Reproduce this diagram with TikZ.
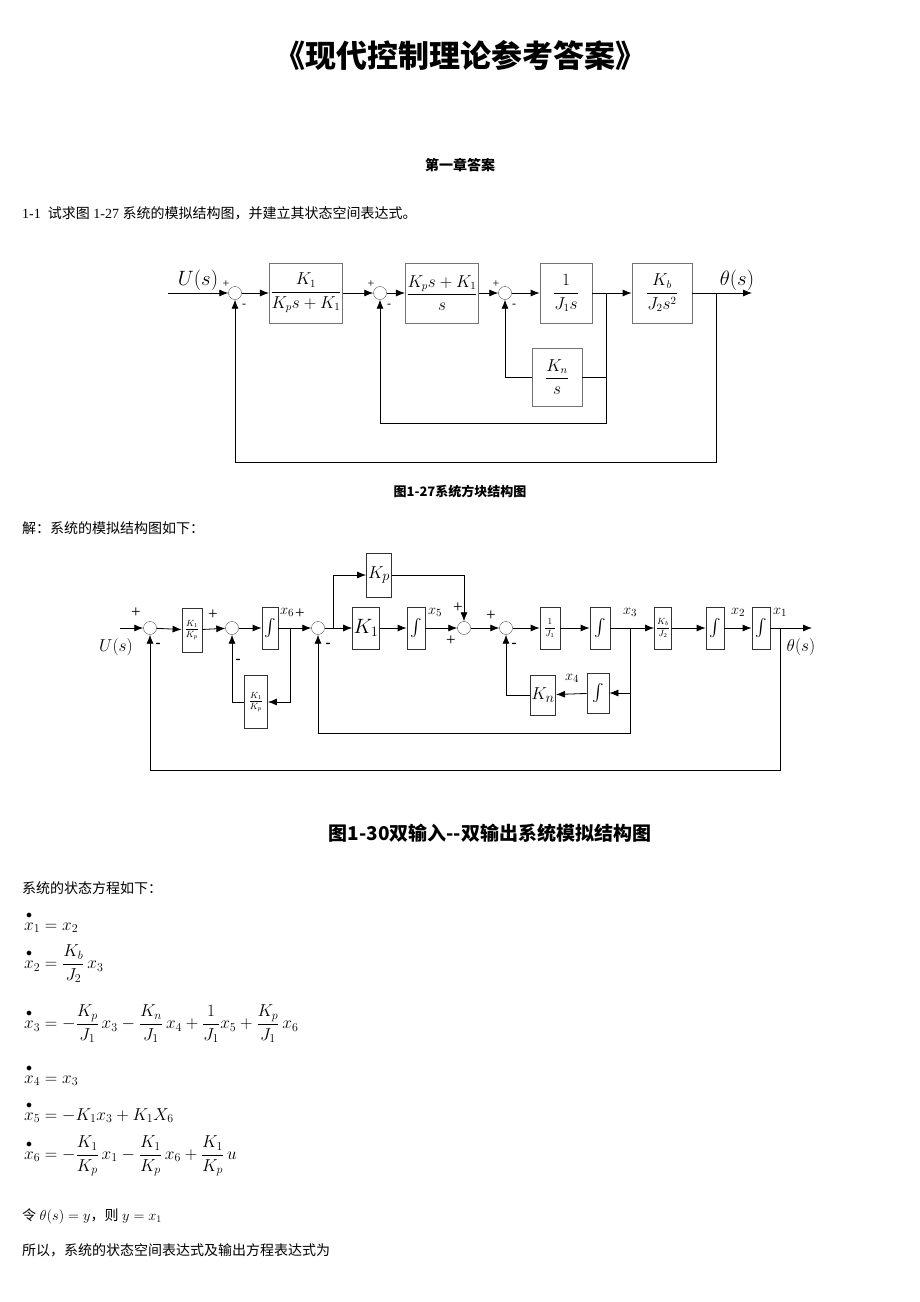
\documentclass[tikz,border=0pt]{standalone}
\usepackage{amsmath}
\usepackage{fontspec}
\setmainfont{Liberation Serif}
\newfontfamily\cjk{Noto Sans CJK SC}
\usetikzlibrary{arrows.meta,positioning,calc}
\tikzset{
 blk/.style={rectangle, draw=black!55, thick, inner sep=1pt, align=center},
 blkb/.style={rectangle, draw=black!80, thick, inner sep=1pt, align=center},
 sumc/.style={circle, draw=black!70, inner sep=0pt, minimum size=13pt},
 sig/.style={-{Latex[length=9pt,width=7pt]}, thick},
 ln/.style={thick},
 txt/.style={anchor=west, inner sep=0pt, font=\fontsize{14}{17}\selectfont},
}
\newcommand{\xd}[1]{\overset{\raisebox{1pt}{$\scriptstyle\bullet$}}{x}_{#1}}
\begin{document}
\begin{tikzpicture}[x=1pt,y=-1pt,font=\fontsize{16}{19}\selectfont]
\useasboundingbox (0,0) rectangle (920,1302);
% headings
\node[font=\cjk\bfseries\fontsize{31}{36}\selectfont] (title) at (460,55) {《现代控制理论参考答案》};
\node[font=\cjk\bfseries\fontsize{14}{17}\selectfont] (chap) at (460,165) {第一章答案};
\node[txt] (q1) at (22,213) {1-1\ \ {\cjk 试求图} 1-27 {\cjk 系统的模拟结构图，并建立其状态空间表达式。}};

% figure 1-27
\node (U1) at (198,280) {\fontsize{21}{24}\selectfont $U(s)$};
\node[sumc] (s1) at (235,293) {};
\node[blk, minimum width=71pt, minimum height=60pt] (G1) at (306,293) {$\dfrac{K_1}{K_ps+K_1}$};
\node[sumc] (s2) at (380,293) {};
\node[blk, minimum width=72pt, minimum height=60pt] (G2) at (442,293) {$\dfrac{K_ps+K_1}{s}$};
\node[sumc] (s3) at (505,293) {};
\node[blk, minimum width=52pt, minimum height=60pt] (G3) at (566,293) {$\dfrac{1}{J_1s}$};
\node[blk, minimum width=60pt, minimum height=60pt] (G4) at (662,293) {$\dfrac{K_b}{J_2s^2}$};
\node[blk, minimum width=50pt, minimum height=58pt] (Gn) at (557,377) {$\dfrac{K_n}{s}$};
\node (th1) at (737,280) {\fontsize{21}{24}\selectfont $\theta(s)$};
\coordinate (in1) at (168,293);
\coordinate (b1) at (606,293);
\coordinate (b2) at (716,293);
\coordinate (out1) at (752,293);
\draw[sig] (in1) -- (s1);
\draw[sig] (s1) -- (G1);
\draw[sig] (G1) -- (s2);
\draw[sig] (s2) -- (G2);
\draw[sig] (G2) -- (s3);
\draw[sig] (s3) -- (G3);
\draw[sig] (G3) -- (G4);
\draw[sig] (G4) -- (out1);
\draw[ln] (b1) |- (Gn.east);
\draw[sig] (Gn.west) -| (s3);
\draw[sig] (b1) -- (606,423) -| (s2);
\draw[sig] (b2) -- (716,462) -| (s1);
\foreach \s in {s1,s2,s3}{
 \node[font=\fontsize{12}{12}\selectfont] at ($(\s)+(-9,-9)$) {+};
 \node[font=\fontsize{12}{12}\selectfont] at ($(\s)+(9,13)$) {-};
}
\node[font=\cjk\bfseries\fontsize{13}{16}\selectfont] (cap1) at (460,492) {图1-27系统方块结构图};
\node[txt] (sol) at (22,528) {\cjk 解：系统的模拟结构图如下：};

% figure 1-30
\node[font=\fontsize{19}{22}\selectfont] (U2) at (116,647) {$U(s)$};
\node[sumc] (t1) at (150,628) {};
\node[blkb, minimum width=20pt, minimum height=44pt, font=\fontsize{9}{10}\selectfont] (H1) at (192,630) {$\dfrac{K_1}{K_p}$};
\node[sumc] (t2) at (232,628) {};
\node[blkb, minimum width=16pt, minimum height=42pt] (I1) at (270,628) {$\int$};
\node[sumc] (t3) at (318,628) {};
\node[blkb, minimum width=24pt, minimum height=42pt, font=\fontsize{22}{24}\selectfont] (H2) at (366,628) {$K_1$};
\node[blkb, minimum width=18pt, minimum height=42pt] (I2) at (416,628) {$\int$};
\node[sumc] (t4) at (464,628) {};
\node[sumc] (t5) at (506,628) {};
\node[blkb, minimum width=20pt, minimum height=42pt, font=\fontsize{9}{10}\selectfont] (H3) at (550,628) {$\dfrac{1}{J_1}$};
\node[blkb, minimum width=20pt, minimum height=42pt] (I3) at (600,628) {$\int$};
\node[blkb, minimum width=17pt, minimum height=42pt, font=\fontsize{9}{10}\selectfont] (H4) at (663,628) {$\dfrac{K_b}{J_2}$};
\node[blkb, minimum width=18pt, minimum height=42pt] (I4) at (715,628) {$\int$};
\node[blkb, minimum width=18pt, minimum height=42pt] (I5) at (761,628) {$\int$};
\node[blkb, minimum width=25pt, minimum height=44pt, font=\fontsize{19}{22}\selectfont] (H5) at (379,575) {$K_p$};
\node[blkb, minimum width=23pt, minimum height=53pt, font=\fontsize{9}{10}\selectfont] (H6) at (256,702) {$\dfrac{K_1}{K_p}$};
\node[blkb, minimum width=22pt, minimum height=40pt] (I6) at (598,693) {$\int$};
\node[blkb, minimum width=17pt, minimum height=40pt, font=\fontsize{19}{22}\selectfont] (H7) at (543,695) {$K_n$};
\node[font=\fontsize{19}{22}\selectfont] (th2) at (801,647) {$\theta(s)$};
\coordinate (in2) at (120,628);
\coordinate (c6) at (290,628);
\coordinate (c7) at (333,628);
\coordinate (c3) at (630,628);
\coordinate (c1) at (780,628);
\coordinate (out2) at (812,628);
\draw[sig] (in2) -- (t1);
\draw[sig] (t1) -- (H1);
\draw[sig] (H1) -- (t2);
\draw[sig] (t2) -- (I1);
\draw[sig] (I1) -- (t3);
\draw[sig] (t3) -- (H2);
\draw[sig] (H2) -- (I2);
\draw[sig] (I2) -- (t4);
\draw[sig] (t4) -- (t5);
\draw[sig] (t5) -- (H3);
\draw[sig] (H3) -- (I3);
\draw[sig] (I3) -- (H4);
\draw[sig] (H4) -- (I4);
\draw[sig] (I4) -- (I5);
\draw[sig] (I5) -- (out2);
\draw[sig] (c7) |- (H5.west);
\draw[sig] (H5.east) -| (t4);
\draw[sig] (c6) |- (H6.east);
\draw[sig] (H6.west) -| (t2);
\draw[sig] (c3) |- (I6.east);
\draw[sig] (I6) -- (H7);
\draw[sig] (H7.west) -| (t5);
\draw[sig] (c3) -- (630,733) -| (t3);
\draw[sig] (c1) -- (780,770) -| (t1);
\node[font=\fontsize{17}{17}\selectfont] at (136,613) {+};
\node[font=\fontsize{17}{17}\selectfont] at (213,615) {+};
\node[font=\fontsize{17}{17}\selectfont] at (300,614) {+};
\node[font=\fontsize{17}{17}\selectfont] at (458,608) {+};
\node[font=\fontsize{17}{17}\selectfont] at (451,641) {+};
\node[font=\fontsize{17}{17}\selectfont] at (491,616) {+};
\node[font=\bfseries\fontsize{15}{15}\selectfont] at (158,645) {-};
\node[font=\bfseries\fontsize{15}{15}\selectfont] at (238,661) {-};
\node[font=\bfseries\fontsize{15}{15}\selectfont] at (328,645) {-};
\node[font=\bfseries\fontsize{15}{15}\selectfont] at (514,645) {-};
\node[font=\fontsize{15}{17}\selectfont] at (287,612) {$x_6$};
\node[font=\fontsize{15}{17}\selectfont] at (435,612) {$x_5$};
\node[font=\fontsize{15}{17}\selectfont] at (630,612) {$x_3$};
\node[font=\fontsize{15}{17}\selectfont] at (738,612) {$x_2$};
\node[font=\fontsize{15}{17}\selectfont] at (780,612) {$x_1$};
\node[font=\fontsize{15}{17}\selectfont] at (572,678) {$x_4$};
\node[font=\cjk\bfseries\fontsize{19}{22}\selectfont] (cap2) at (490,833) {图1-30双输入--双输出系统模拟结构图};

% state equations
\node[txt] (st) at (22,888) {\cjk 系统的状态方程如下：};
\begin{scope}[every node/.style={anchor=west, inner sep=0pt, font=\fontsize{17.5}{20}\selectfont}]
\node (e1) at (24,922) {$\xd1=x_2$};
\node (e2) at (24,964) {$\xd2=\dfrac{K_b}{J_2}\,x_3$};
\node (e3) at (24,1024) {$\xd3=-\dfrac{K_p}{J_1}\,x_3-\dfrac{K_n}{J_1}\,x_4+\dfrac{1}{J_1}x_5+\dfrac{K_p}{J_1}\,x_6$};
\node (e4) at (24,1075) {$\xd4=x_3$};
\node (e5) at (24,1112) {$\xd5=-K_1x_3+K_1X_6$};
\node (e6) at (24,1156) {$\xd6=-\dfrac{K_1}{K_p}\,x_1-\dfrac{K_1}{K_p}\,x_6+\dfrac{K_1}{K_p}\,u$};
\end{scope}
\node[txt] (ling) at (22,1216) {{\cjk 令} $\theta(s)=y${\cjk ，则} $y=x_1$};
\node[txt] (suoyi) at (22,1250) {\cjk 所以，系统的状态空间表达式及输出方程表达式为};
\end{tikzpicture}
\end{document}
